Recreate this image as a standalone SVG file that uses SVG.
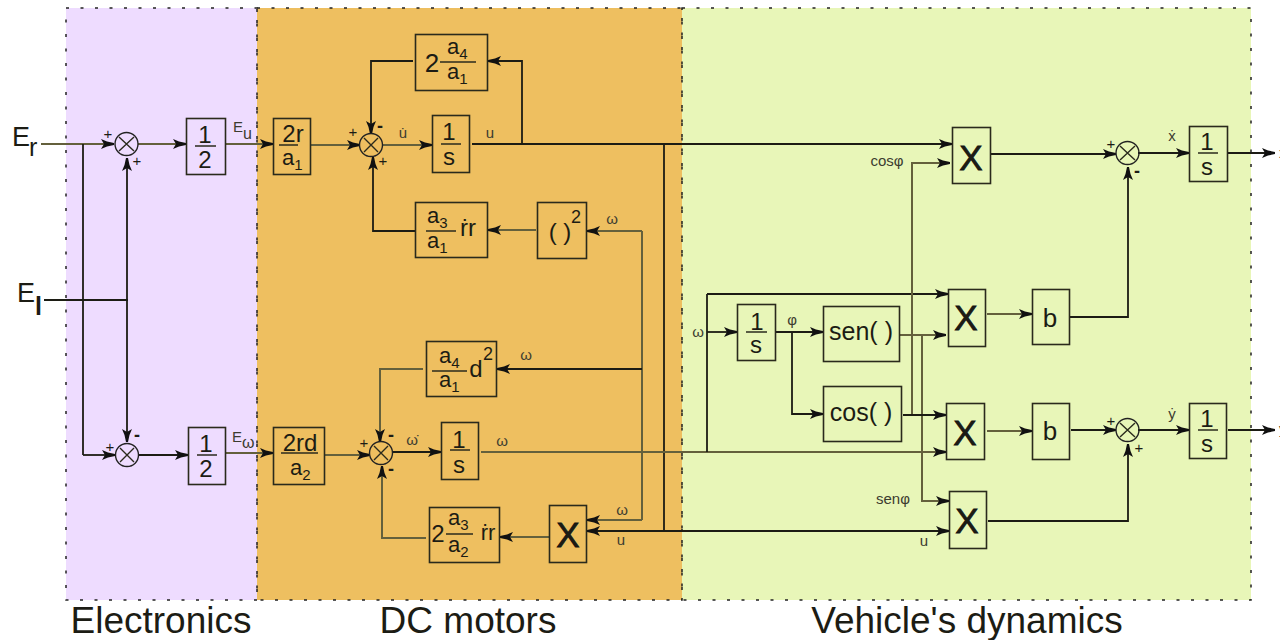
<svg xmlns="http://www.w3.org/2000/svg" width="1280" height="640" viewBox="0 0 1280 640">
<style>
text{font-family:"Liberation Sans",Arial,sans-serif;fill:#1c1c14}
.b{fill:none;stroke:#2a2a1c;stroke-width:1.6}
.w{stroke:#2a2a1c;stroke-width:1.4;fill:none}
.c{stroke:#1c1c14;stroke-width:1.8;fill:none}
.g{stroke:#64603c;stroke-width:2;fill:none}
.a{marker-end:url(#ah)}
.r{fill:none;stroke:#222;stroke-width:1.5;stroke-dasharray:3 11.500}
.n{font-size:24px;text-anchor:middle}
.f{font-size:22px}
.f tspan{font-size:15px}
.s{font-size:15px;text-anchor:middle;fill:#3c3c30}
.p{font-size:15px;text-anchor:middle}
.m{font-size:18px;font-weight:bold;text-anchor:middle}
.t{font-size:37px;text-anchor:middle}
.fr{stroke:#2a2a1c;stroke-width:1.5}
.x{font-size:35px;text-anchor:middle;stroke:#111;stroke-width:.8}
.sum{fill:none;stroke:#222;stroke-width:1.4}
</style>
<defs>
<marker id="ah" markerUnits="userSpaceOnUse" markerWidth="16" markerHeight="12" refX="13" refY="6" orient="auto">
<path d="M0 1L6 3.500L13 5V7L6 8.500L0 11L3 6Z" fill="#111"/>
</marker>
</defs>
<rect width="1280" height="640" fill="#fff"/>
<g id="regions">
<rect x="66" y="8" width="191" height="592" fill="#eedcff"/>
<rect x="257" y="8" width="425" height="592" fill="#eebf60"/>
<rect x="682" y="8" width="569" height="592" fill="#e8f6b8"/>
<rect class="r" x="66" y="8" width="191" height="592"/>
<rect class="r" x="257" y="8" width="425" height="592"/>
<rect class="r" x="682" y="8" width="569" height="592"/>
</g>
<g id="connectors">
<path class="g a" d="M41 144H114"/>
<path class="c" d="M44 300H128"/>
<path class="c" d="M83 144V455"/>
<path class="c a" d="M83 455H115"/>
<path class="c a" d="M127 300V158"/>
<path class="c a" d="M127 300V442"/>
<path class="g a" d="M138 144H186"/>
<path class="c a" d="M138 455H188"/>
<path class="g a" d="M225 144H273"/>
<path class="g a" d="M225 453H273"/>
<path class="g a" d="M311 145H360"/>
<path class="g a" d="M324 455H370"/>
<path class="c a" d="M413 61H371V134"/>
<path class="c a" d="M415 231H373V157"/>
<path class="g a" d="M382 145H432"/>
<path class="c a" d="M472 144H952"/>
<path class="c a" d="M522 144V61H488"/>
<path class="c a" d="M664 144V531H587"/>
<path class="c a" d="M664 531H949"/>
<path class="g a" d="M536 230H488"/>
<path class="g a" d="M642 231H587"/>
<path class="g" d="M642 231V520"/>
<path class="g a" d="M642 520H587"/>
<path class="c a" d="M642 369H497"/>
<path class="g a" d="M423 369H380V442"/>
<path class="c a" d="M392 452H441"/>
<path class="g a" d="M481 452H946"/>
<path class="c" d="M707 452V294"/>
<path class="c a" d="M707 294H948"/>
<path class="c a" d="M707 332H737"/>
<path class="c a" d="M776 332H823"/>
<path class="c a" d="M792 332V414H823"/>
<path class="g a" d="M549 537H500"/>
<path class="g a" d="M426 538H382V466"/>
<path class="g a" d="M900 335H946"/>
<path class="g a" d="M922 335V501H949"/>
<path class="g a" d="M912 415V163H950"/>
<path class="c a" d="M903 415H946"/>
<path class="c a" d="M991 154H1116"/>
<path class="c a" d="M1138 153H1189"/>
<path class="c a" d="M1228 153H1275"/>
<path class="g a" d="M987 314H1032"/>
<path class="c a" d="M1069 317H1128V167"/>
<path class="g a" d="M987 431H1032"/>
<path class="c a" d="M1071 430H1116"/>
<path class="c a" d="M1138 430H1189"/>
<path class="c a" d="M1228 430H1275"/>
<path class="c a" d="M988 521H1128V444"/>
</g>
<g id="sum1"><circle class="sum" cx="126.500" cy="144" r="11.500"/><path class="w" d="M119 137L134 151M134 137L119 151"/></g>
<g id="sum2"><circle class="sum" cx="127" cy="455" r="11.500"/><path class="w" d="M120 448L134 462M134 448L120 462"/></g>
<g id="sum3"><circle class="sum" cx="371" cy="145" r="11.500"/><path class="w" d="M364 138L378 152M378 138L364 152"/></g>
<g id="sum4"><circle class="sum" cx="381" cy="453" r="11.500"/><path class="w" d="M374 446L388 460M388 446L374 460"/></g>
<g id="sum5"><circle class="sum" cx="1127.500" cy="153" r="11.500"/><path class="w" d="M1120 146L1135 160M1135 146L1120 160"/></g>
<g id="sum6"><circle class="sum" cx="1127.500" cy="430" r="11.500"/><path class="w" d="M1120 423L1135 437M1135 423L1120 437"/></g>
<g id="half1"><rect class="b" x="186.500" y="118.500" width="39" height="56"/><text class="n" x="205" y="143">1</text><path class="fr" d="M195 146H216"/><text class="n" x="205" y="168">2</text></g>
<g id="half2"><rect class="b" x="188.500" y="427.500" width="37" height="57"/><text class="n" x="206" y="452">1</text><path class="fr" d="M197 455H217"/><text class="n" x="206" y="477">2</text></g>
<g id="gain1"><rect class="b" x="273.500" y="118.500" width="37" height="56"/><text class="n" x="293" y="142">2r</text><path class="fr" d="M279 145H298"/><text class="f" x="282" y="165">a<tspan dy="5">1</tspan></text></g>
<g id="gain2"><rect class="b" x="273.500" y="427.500" width="51" height="57"/><text class="n" x="300" y="451">2rd</text><path class="fr" d="M281 453H318"/><text class="f" x="290" y="475">a<tspan dy="5">2</tspan></text></g>
<g id="feedback1"><rect class="b" x="415.500" y="34.500" width="72" height="56"/><text class="n" x="432" y="72" style="font-size:26px">2</text><path class="fr" d="M440 62H476"/><text class="f" x="447" y="54">a<tspan dy="5">4</tspan></text><text class="f" x="447" y="79">a<tspan dy="5">1</tspan></text></g>
<g id="int1"><rect class="b" x="432.500" y="115.500" width="37" height="57"/><text class="n" x="449" y="140">1</text><path class="fr" d="M441 144H461"/><text class="n" x="449" y="165">s</text></g>
<g id="feedback2"><rect class="b" x="415.500" y="202.500" width="72" height="55"/><text class="f" x="427" y="223">a<tspan dy="5">3</tspan></text><path class="fr" d="M426 231H456"/><text class="f" x="427" y="248">a<tspan dy="5">1</tspan></text><text class="n" x="468" y="236">ṙr</text></g>
<g id="square"><rect class="b" x="537.500" y="202.500" width="49" height="56"/><text class="n" x="560" y="240">( )</text><text x="571" y="223" style="font-size:18px">2</text></g>
<g id="feedback3"><rect class="b" x="426.500" y="341.500" width="70" height="55"/><text class="f" x="439" y="363">a<tspan dy="5">4</tspan></text><path class="fr" d="M432 371H467"/><text class="f" x="439" y="387">a<tspan dy="5">1</tspan></text><text class="n" x="476" y="377">d</text><text x="483" y="360" style="font-size:18px">2</text></g>
<g id="int2"><rect class="b" x="441.500" y="422.500" width="37" height="57"/><text class="n" x="459" y="448">1</text><path class="fr" d="M450 450H470"/><text class="n" x="459" y="473">s</text></g>
<g id="feedback4"><rect class="b" x="429.500" y="507.500" width="70" height="55"/><text class="n" x="438" y="542">2</text><text class="f" x="448" y="525">a<tspan dy="5">3</tspan></text><path class="fr" d="M446 534H473"/><text class="f" x="448" y="552">a<tspan dy="5">2</tspan></text><text class="n" x="488" y="540" style="font-size:22px">ṙr</text></g>
<g id="mult1"><rect class="b" x="549.500" y="505.500" width="37" height="57"/><text class="x" x="568" y="547">X</text></g>
<g id="mult2"><rect class="b" x="952.500" y="127.500" width="38" height="56"/><text class="x" x="971" y="170">X</text></g>
<g id="int3"><rect class="b" x="737.500" y="304.500" width="38" height="56"/><text class="n" x="757" y="330">1</text><path class="fr" d="M746 332H767"/><text class="n" x="756" y="353">s</text></g>
<g id="sen"><rect class="b" x="823.500" y="306.500" width="76" height="55"/><text class="n" x="861" y="340" style="font-size:25px">sen( )</text></g>
<g id="cos"><rect class="b" x="823.500" y="386.500" width="78" height="55"/><text class="n" x="861" y="421" style="font-size:25px">cos( )</text></g>
<g id="mult3"><rect class="b" x="948.500" y="289.500" width="37" height="57"/><text class="x" x="966" y="330">X</text></g>
<g id="mult4"><rect class="b" x="946.500" y="403.500" width="38" height="56"/><text class="x" x="965" y="445">X</text></g>
<g id="mult5"><rect class="b" x="949.500" y="491.500" width="37" height="57"/><text class="x" x="967" y="533">X</text></g>
<g id="b1"><rect class="b" x="1032.500" y="289.500" width="37" height="55"/><text class="n" x="1050" y="327" style="font-size:26px">b</text></g>
<g id="b2"><rect class="b" x="1032.500" y="403.500" width="37" height="56"/><text class="n" x="1050" y="440" style="font-size:26px">b</text></g>
<g id="int4"><rect class="b" x="1189.500" y="126.500" width="38" height="55"/><text class="n" x="1207" y="150">1</text><path class="fr" d="M1198 153H1218"/><text class="n" x="1207" y="175">s</text></g>
<g id="int5"><rect class="b" x="1189.500" y="403.500" width="37" height="55"/><text class="n" x="1207" y="427">1</text><path class="fr" d="M1198 430H1218"/><text class="n" x="1207" y="452">s</text></g>
<g id="labels">
<text x="12" y="146" style="font-size:27px">E</text><text x="29" y="156" style="font-size:25px">r</text>
<text x="17" y="302" style="font-size:27px">E</text><text x="35" y="315" style="font-size:25px;font-weight:bold">l</text>
<text x="233" y="132" style="font-size:15px;fill:#3c3c30">E<tspan dy="7" style="font-size:16px">u</tspan></text>
<text x="232" y="442" style="font-size:15px;fill:#3c3c30">E<tspan dy="6" style="font-size:16px">ω</tspan></text>
<text class="s" x="403" y="138">u̇</text>
<text class="s" x="490" y="138">u</text>
<text class="s" x="612" y="224">ω</text>
<text class="s" x="526" y="360">ω</text>
<text class="s" x="412" y="445">ω̇</text>
<text class="s" x="502" y="446">ω</text>
<text class="s" x="622" y="515">ω</text>
<text class="s" x="621" y="545">u</text>
<text class="s" x="698" y="337">ω</text>
<text class="s" x="792" y="325">φ</text>
<text class="s" x="887" y="166">cosφ</text>
<text class="s" x="893" y="504">senφ</text>
<text class="s" x="924" y="546">u</text>
<text class="s" x="1172" y="141">ẋ</text>
<text class="s" x="1172" y="419">ẏ</text>
<text x="1279" y="158" class="s" style="text-anchor:start">x</text>
<text x="1279" y="434" class="s" style="text-anchor:start">y</text>
<text class="p" x="108" y="139">+</text><text class="p" x="137" y="166">+</text>
<text class="p" x="110" y="452">+</text><text class="m" x="137" y="441">-</text>
<text class="p" x="353" y="137">+</text><text class="m" x="380" y="132">-</text><text class="p" x="383" y="166">+</text>
<text class="p" x="364" y="448">+</text><text class="m" x="391" y="441">-</text><text class="m" x="391" y="475">-</text>
<text class="p" x="1111" y="149">+</text><text class="m" x="1137" y="177">-</text>
<text class="p" x="1111" y="426">+</text><text class="p" x="1139" y="453">+</text>
<text class="t" x="161" y="633">Electronics</text>
<text class="t" x="468" y="633">DC motors</text>
<text class="t" x="967" y="633">Vehicle's dynamics</text>
</g>
</svg>
